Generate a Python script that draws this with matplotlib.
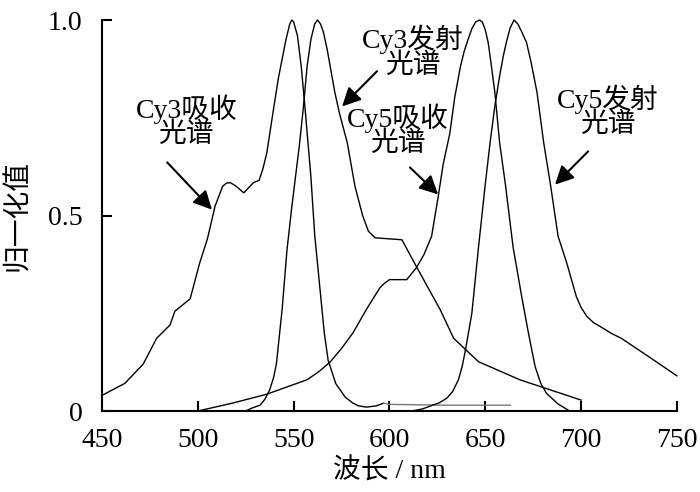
import matplotlib
matplotlib.use('Agg')
import matplotlib.pyplot as plt

plt.rcParams['font.family'] = ['Liberation Serif', 'Noto Sans CJK SC']

# 读图得到的数据 (波长 nm, 归一化值)
cy3_abs_x = [450, 462, 471.5, 478.5, 485.5, 488, 496, 501, 505, 509, 513, 515, 517, 520, 524, 529, 532,
             534, 536, 539.5, 542, 544, 546, 548, 549, 550, 552, 554, 556, 559, 561, 564, 566, 568, 572,
             577, 581, 584, 588, 593, 597]
cy3_abs_y = [0.04, 0.071, 0.12, 0.186, 0.22, 0.255, 0.287, 0.379, 0.44, 0.524, 0.575, 0.583, 0.584, 0.575,
             0.558, 0.584, 0.59, 0.62, 0.66, 0.772, 0.85, 0.9, 0.95, 0.99, 1.0, 0.995, 0.96, 0.88, 0.772,
             0.6, 0.45, 0.3, 0.2, 0.13, 0.07, 0.035, 0.02, 0.013, 0.01, 0.013, 0.02]
cy3_tail_x = [597, 600, 628, 663]
cy3_tail_y = [0.02, 0.017, 0.015, 0.015]

cy3_em_x = [525, 528, 532.5, 535, 537.5, 539.5, 541, 544, 546.5, 549, 551.5, 553, 555, 557, 559, 561,
            562.5, 564, 565.5, 567.5, 569.5, 571.5, 574, 578, 582, 586, 589, 592.5, 606.5, 614, 626.5,
            633.5, 646.5, 668, 700]
cy3_em_y = [0.0, 0.007, 0.015, 0.03, 0.054, 0.085, 0.12, 0.26, 0.41, 0.52, 0.62, 0.68, 0.772, 0.88, 0.95,
            0.99, 1.0, 0.99, 0.97, 0.925, 0.87, 0.815, 0.76, 0.686, 0.575, 0.5, 0.46, 0.443, 0.438, 0.37,
            0.259, 0.186, 0.126, 0.08, 0.028]

cy5_abs_x = [500, 518, 536, 557, 563, 569, 575, 581, 588, 595, 597, 600, 609, 614, 618, 622, 625.5, 628,
             631.5, 634, 637, 639, 641, 643, 645, 647, 648.5, 650, 651.5, 653, 655, 657.5, 660.5, 664.5,
             669, 672.5, 676, 679, 682, 688, 694]
cy5_abs_y = [0.0, 0.02, 0.043, 0.08, 0.1, 0.125, 0.16, 0.2, 0.26, 0.315, 0.325, 0.336, 0.336, 0.366, 0.4,
             0.447, 0.55, 0.63, 0.71, 0.8, 0.88, 0.92, 0.95, 0.978, 0.995, 1.0, 0.995, 0.975, 0.943, 0.89,
             0.815, 0.686, 0.58, 0.42, 0.293, 0.2, 0.114, 0.07, 0.045, 0.018, 0.0]

cy5_em_x = [611.5, 617, 621, 626, 630, 633, 636, 638, 640, 643, 646.5, 650, 652.5, 655, 657.5, 659.5,
            661, 663, 665, 667, 669, 671.5, 674, 677, 680.5, 684, 688, 692.5, 697.5, 700, 703, 706.5, 710,
            716, 721, 735, 750]
cy5_em_y = [0.0, 0.005, 0.012, 0.021, 0.033, 0.05, 0.08, 0.115, 0.165, 0.25, 0.42, 0.58, 0.686, 0.78,
            0.857, 0.91, 0.943, 0.98, 1.0, 0.99, 0.97, 0.943, 0.89, 0.815, 0.686, 0.58, 0.447, 0.379, 0.293,
            0.265, 0.242, 0.226, 0.216, 0.198, 0.186, 0.14, 0.09]

labels = ['Cy3吸收\n光谱', 'Cy3发射\n光谱', 'Cy5吸收\n光谱', 'Cy5发射\n光谱']
label_pos = [(494, 0.741), (612, 0.918), (604.5, 0.718), (714, 0.767)]
arrow_from = [(484, 0.636), (593.5, 0.869), (610.7, 0.623), (703.7, 0.664)]
arrow_to = [(507.4, 0.515), (575.3, 0.779), (625.4, 0.554), (686.4, 0.579)]

xticks = [450, 500, 550, 600, 650, 700, 750]
yticks = [0, 0.5, 1.0]
ytick_labels = ['0', '0.5', '1.0']

fig = plt.figure(figsize=(7, 4.92), dpi=100)
ax = fig.add_axes([0.1457, 0.1646, 0.8213, 0.7947])

lw = 1.0
ax.plot(cy3_abs_x, cy3_abs_y, color='black', lw=lw, clip_on=False)
ax.plot(cy3_tail_x, cy3_tail_y, color='#777777', lw=lw, clip_on=False)
ax.plot(cy3_em_x, cy3_em_y, color='black', lw=lw, clip_on=False)
ax.plot(cy5_abs_x, cy5_abs_y, color='black', lw=lw, clip_on=False)
ax.plot(cy5_em_x, cy5_em_y, color='black', lw=lw, clip_on=False)

for text, pos in zip(labels, label_pos):
    ax.text(pos[0], pos[1], text, ha='center', va='center', fontsize=20, linespacing=0.95)
for a, b in zip(arrow_from, arrow_to):
    ax.annotate('', xy=b, xytext=a,
                arrowprops=dict(arrowstyle='-|>', color='black', lw=1.5, mutation_scale=28,
                                shrinkA=0, shrinkB=0))

ax.set_xlim(450, 750)
ax.set_ylim(0, 1.0)
ax.set_xticks(xticks)
ax.set_yticks(yticks)
ax.set_yticklabels(ytick_labels)
ax.spines['top'].set_visible(False)
ax.spines['right'].set_visible(False)
ax.spines['left'].set_linewidth(1.5)
ax.spines['bottom'].set_linewidth(1.5)
ax.tick_params(direction='in', length=7, width=1.5, labelsize=20)
ax.tick_params(axis='x', pad=12)
ax.tick_params(axis='y', pad=14)

ax.set_xlabel('波长 / nm', fontsize=20, labelpad=4)
ax.set_ylabel('归一化值', fontsize=20, labelpad=12)

fig.savefig('out.png', dpi=100)
